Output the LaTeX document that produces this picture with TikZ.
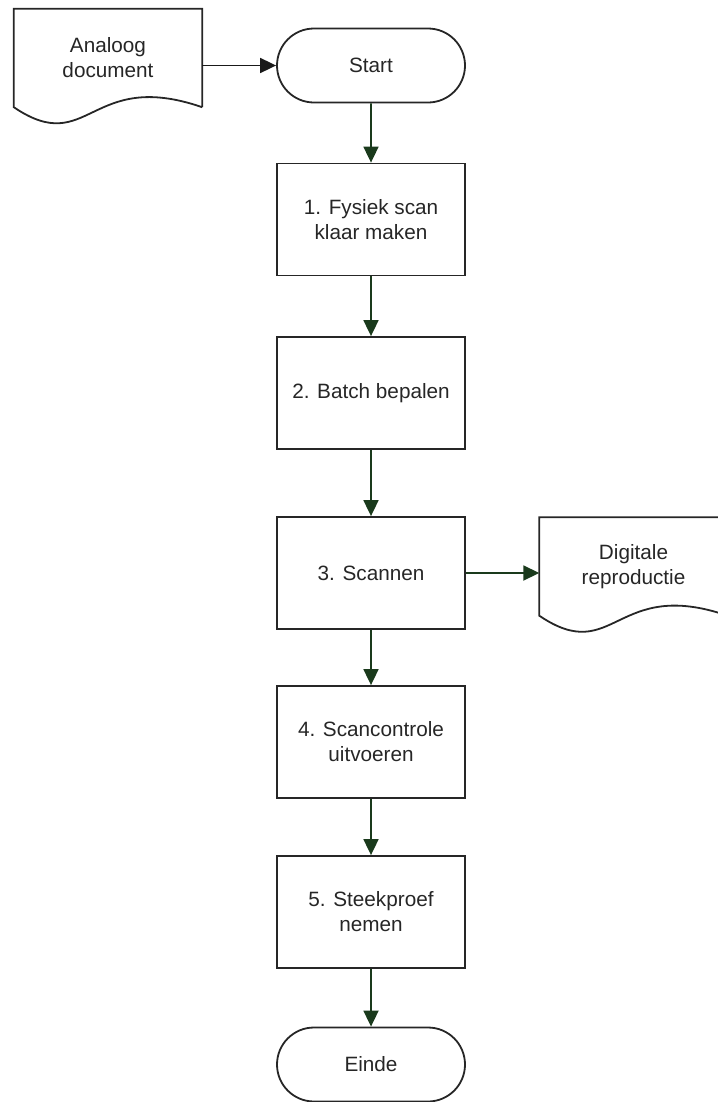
\documentclass[tikz,border=0pt]{standalone}
\usepackage{fontspec}
\setmainfont{Liberation Sans}
\usetikzlibrary{arrows.meta,shapes.misc,calc}
\definecolor{flowgreen}{HTML}{1A3A1C}
\definecolor{txt}{HTML}{262626}
\tikzset{
  base/.style={font=\fontsize{20.8}{25}\selectfont, text=txt, align=center, inner sep=0pt},
  procbox/.style={base, draw=black!85, line width=1.8bp, minimum width=188bp, minimum height=112bp},
  termbox/.style={base, draw=black!85, line width=1.8bp, rounded rectangle, minimum width=188bp, minimum height=74bp},
  docbox/.style={base, minimum width=188bp, minimum height=98bp},
  docline/.style={draw=black!85, line width=1.8bp, line join=miter},
  flowarrow/.style={draw=flowgreen, line width=1.8bp, -{Triangle[length=16bp,width=15bp]}},
  blackarrow/.style={draw=black!90, line width=1.8bp, -{Triangle[length=16bp,width=15bp]}},
}
\newcommand{\docoutline}[1]{%
  \draw[docline] (#1.south east) -- (#1.north east) -- (#1.north west) -- (#1.south west)
    .. controls ($(#1.south west)!0.4!(#1.south east)+(0,-51bp)$) and ($(#1.south west)!0.4!(#1.south east)+(0,39bp)$) .. (#1.south east);}
\begin{document}
\begin{tikzpicture}[x=1bp,y=-1bp]
\useasboundingbox (0,0) rectangle (718,1102);
\node[docbox] (doc1) at (108,58) {Analoog\\document};
\node[termbox] (start) at (371,65.5) {Start};
\node[procbox] (s1) at (371,219.5) {1. Fysiek scan\\klaar maken};
\node[procbox] (s2) at (371,393) {2. Batch bepalen};
\node[procbox] (s3) at (371,573) {3. Scannen};
\node[docbox] (doc2) at (633.5,566.5) {Digitale\\reproductie};
\node[procbox] (s4) at (371,742) {4. Scancontrole\\uitvoeren};
\node[procbox] (s5) at (371,912) {5. Steekproef\\nemen};
\node[termbox] (end) at (371,1064.5) {Einde};
\begin{scope}
\clip (0,0) rectangle (718,1102);
\docoutline{doc1}
\docoutline{doc2}
\end{scope}
\draw[blackarrow] (doc1.east |- start.west) -- (start.west);
\draw[flowarrow] (start) -- (s1);
\draw[flowarrow] (s1) -- (s2);
\draw[flowarrow] (s2) -- (s3);
\draw[flowarrow] (s3.east) -- (doc2.west |- s3.east);
\draw[flowarrow] (s3) -- (s4);
\draw[flowarrow] (s4) -- (s5);
\draw[flowarrow] (s5) -- (end);
\end{tikzpicture}
\end{document}
